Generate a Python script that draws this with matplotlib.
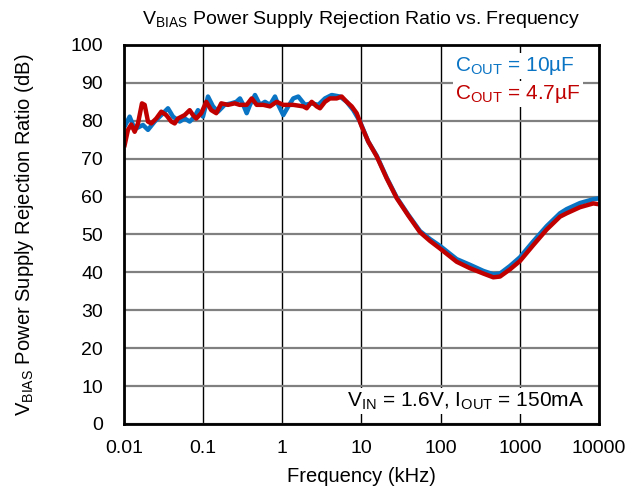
import matplotlib
matplotlib.use("Agg")
import matplotlib.pyplot as plt
from matplotlib.ticker import FixedLocator, NullLocator, FixedFormatter

plt.rcParams['font.family'] = ['Liberation Sans', 'DejaVu Sans']
plt.rcParams['mathtext.fontset'] = 'custom'
plt.rcParams['mathtext.rm'] = 'Liberation Sans'

# frequency (kHz) and PSRR (dB)
f_red = [0.0102, 0.01123, 0.01236, 0.01365, 0.01503, 0.01688, 0.01826, 0.0201, 0.02213,
         0.02559, 0.02958, 0.03422, 0.03958, 0.04369, 0.0481, 0.05844, 0.06758, 0.07438,
         0.08185, 0.09471, 0.1095, 0.1267, 0.1465, 0.1694, 0.2058, 0.2502, 0.2893, 0.3547,
         0.4102, 0.4745, 0.5746, 0.6983, 0.8488, 1.028, 1.375, 1.839, 2.031, 2.349, 2.716,
         2.99, 3.458, 4.0, 4.86, 5.62, 6.5, 7.52, 8.69, 10.06, 12.18, 15.56, 20.81, 27.83,
         39.0, 54.8, 73.3, 98.0, 159.4, 234.6, 345.4, 461.9, 561.5, 750.9, 1004, 1479,
         2183, 3215, 3906, 5752, 8470, 9793]
psrr_red = [73.6, 77.6, 79.0, 77.1, 79.3, 84.6, 84.2, 79.8, 79.3, 80.6, 82.4, 81.5, 79.8,
            79.3, 80.6, 81.5, 82.8, 81.5, 80.6, 82.0, 85.0, 82.8, 82.0, 84.6, 84.2, 84.6,
            84.2, 84.2, 85.9, 84.2, 84.2, 83.8, 85.0, 84.2, 84.2, 83.8, 83.3, 85.0, 83.8,
            83.3, 85.0, 85.9, 85.9, 86.4, 85.0, 83.8, 82.0, 78.5, 74.5, 70.6, 64.8, 59.6,
            55.0, 50.6, 48.3, 46.3, 42.8, 41.1, 39.7, 38.7, 38.9, 40.8, 43.0, 47.2, 51.3,
            54.7, 55.6, 57.2, 58.2, 58.0]

f_blue = [0.0102, 0.0118, 0.01299, 0.0143, 0.01738, 0.0201, 0.02442, 0.02958, 0.03595,
          0.04158, 0.05053, 0.05844, 0.06758, 0.07816, 0.08603, 0.09952, 0.1151, 0.1331,
          0.1539, 0.187, 0.2266, 0.2622, 0.2919, 0.3213, 0.3547, 0.3905, 0.4516, 0.5222,
          0.6039, 0.6983, 0.8078, 0.8892, 1.028, 1.189, 1.375, 1.591, 1.933, 2.349, 2.846,
          3.458, 4.203, 5.35, 6.5, 7.877, 9.57, 12.18, 15.56, 20.81, 27.83, 39.0, 54.8,
          73.3, 98.0, 159.4, 234.6, 345.4, 461.9, 561.5, 750.9, 1004, 1479, 2183, 3215,
          3906, 5752, 8470, 9793]
psrr_blue = [78.5, 81.1, 78.9, 78.0, 78.9, 77.6, 79.8, 81.5, 83.3, 81.1, 79.8, 80.6, 79.8,
             81.1, 82.8, 81.1, 86.4, 83.8, 82.4, 84.2, 84.6, 85.0, 85.9, 84.2, 82.0, 84.2,
             86.8, 84.2, 85.0, 84.2, 86.4, 84.2, 81.5, 83.8, 85.9, 86.4, 84.2, 84.6, 84.2,
             85.9, 86.8, 86.4, 85.0, 82.8, 79.8, 74.5, 70.8, 65.0, 59.8, 55.2, 50.9, 48.8,
             47.0, 43.5, 42.0, 40.4, 39.5, 39.7, 41.7, 44.0, 48.2, 52.2, 55.6, 56.7, 58.3,
             59.3, 59.5]

xticks = [0.01, 0.1, 1, 10, 100, 1000, 10000]
xticklabels = ["0.01", "0.1", "1", "10", "100", "1000", "10000"]
yticks = list(range(0, 101, 10))

blue = '#0a74c4'
red = '#c00000'

fig = plt.figure(figsize=(6.41, 4.97), dpi=100)
ax = fig.add_axes([0.1934, 0.1469, 0.7411, 0.7626])

ax.plot(f_blue, psrr_blue, color=blue, lw=3.2, zorder=3, solid_joinstyle='round')
ax.plot(f_red, psrr_red, color=red, lw=3.2, zorder=4, solid_joinstyle='round')

ax.set_xscale('log')
ax.set_xlim(0.01, 10000)
ax.set_ylim(0, 100)
ax.xaxis.set_major_locator(FixedLocator(xticks))
ax.xaxis.set_major_formatter(FixedFormatter(xticklabels))
ax.xaxis.set_minor_locator(NullLocator())
ax.set_yticks(yticks)
ax.tick_params(length=0, labelsize=14)
ax.tick_params(axis='x', pad=11.5)
ax.tick_params(axis='y', pad=15)

ax.grid(True, axis='x', color='black', lw=1.0)
ax.grid(True, axis='y', color='#808080', lw=1.6)
ax.set_axisbelow(True)
for s in ax.spines.values():
    s.set_linewidth(2.0)
    s.set_zorder(6)

ax.set_title(r"V$_{\mathregular{BIAS}}$ Power Supply Rejection Ratio vs. Frequency",
             fontsize=14, pad=15)
ax.set_xlabel("Frequency (kHz)", fontsize=14.5, labelpad=7.5)
ax.set_ylabel(r"V$_{\mathregular{BIAS}}$ Power Supply Rejection Ratio (dB)", fontsize=14.5,
              labelpad=25)

bbox = dict(facecolor='white', edgecolor='none', pad=1.5)
ax.text(0.697, 0.945, r"C$_{\mathregular{OUT}}$ = 10µF", color=blue, fontsize=15,
        ha='left', va='center', transform=ax.transAxes, bbox=bbox, zorder=5)
ax.text(0.697, 0.871, r"C$_{\mathregular{OUT}}$ = 4.7µF", color=red, fontsize=15,
        ha='left', va='center', transform=ax.transAxes, bbox=bbox, zorder=5)
ax.text(0.469, 0.061, r"V$_{\mathregular{IN}}$ = 1.6V, I$_{\mathregular{OUT}}$ = 150mA",
        color='black', fontsize=15, ha='left', va='center', transform=ax.transAxes,
        bbox=bbox, zorder=5)

fig.savefig("out.png", dpi=100)
